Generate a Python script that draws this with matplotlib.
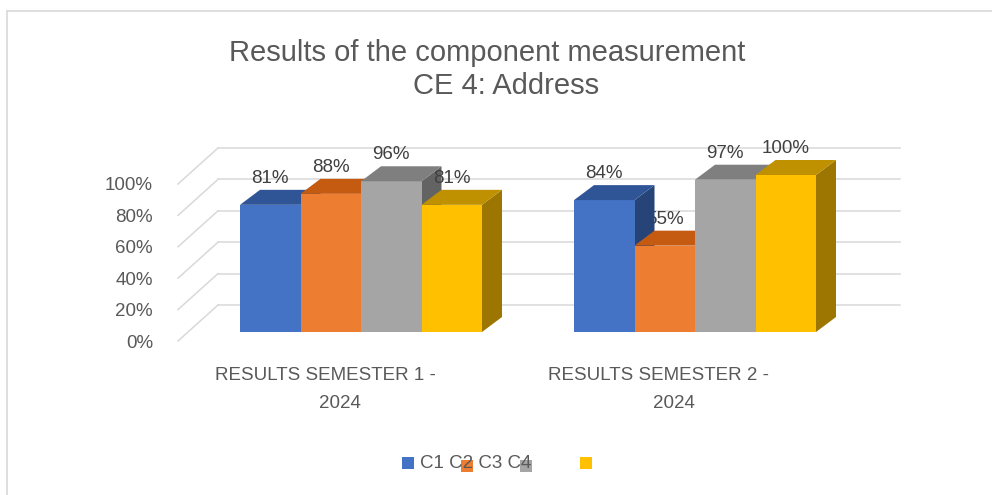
import matplotlib
matplotlib.use("Agg")
import matplotlib.pyplot as plt
from matplotlib.patches import Polygon, Rectangle
from matplotlib.lines import Line2D
import numpy as np

# ---------------- data ----------------
categories_line1 = ["RESULTS SEMESTER 1 -", "RESULTS SEMESTER 2 -"]
categories_line2 = ["2024", "2024"]
series_names = ["C1", "C2", "C3", "C4"]
c1 = [81, 84]
c2 = [88, 55]
c3 = [96, 97]
c4 = [81, 100]
series_values = [c1, c2, c3, c4]
tick_values = [0, 20, 40, 60, 80, 100]
tick_labels = ["0%", "20%", "40%", "60%", "80%", "100%"]
title_line1 = "Results of the component measurement"
title_line2 = "CE 4: Address"

# ---------------- style ----------------
front_colors = ["#4472C4", "#ED7D31", "#A5A5A5", "#FFC000"]
top_colors = ["#2F5597", "#C55A11", "#7F7F7F", "#BF9000"]
side_colors = ["#264478", "#9E480E", "#636363", "#9C7600"]
FONT = "Liberation Sans"
W, H = 992, 495
fig = plt.figure(figsize=(W / 100, H / 100), dpi=100)
fig.patch.set_facecolor("white")
ax = fig.add_axes([0, 0, 1, 1])
ax.axis("off")

# pixel mapping: x=0 -> 361px, 1 unit = 334px ; y=0 -> 332px from top, 1% = 1.57px
X0, XS = 361.0, 334.0
Y0, YS = 332.0, 1.57
ax.set_xlim(-X0 / XS, (W - X0) / XS)
ax.set_ylim((Y0 - H) / YS, Y0 / YS)


def px_x(p):
    return (p - X0) / XS


def dy_px(p):
    return p / YS


bar_w = 60.5 / XS
DX = 20 / XS
DY = dy_px(15)
LABEL_OFF = dy_px(26.5)

# walls
front_dy = dy_px(-9)
back_dy = dy_px(27)
front_x = px_x(178)
back_x = px_x(218)
right_x = px_x(900)
grid_col = "#D9D9D9"
for v in tick_values:
    ax.plot([back_x, right_x], [v + back_dy, v + back_dy], color=grid_col, lw=1.1, zorder=1)
    ax.plot([front_x, back_x], [v + front_dy, v + back_dy], color=grid_col, lw=1.1, zorder=1)
for v, lab in zip(tick_values, tick_labels):
    ax.text(px_x(153), v + front_dy - dy_px(2), lab, ha="right", va="center", fontsize=13.5,
            color="#595959", family=FONT)

# bars
groups = np.arange(len(categories_line1))
z = 2
bar_z = {}
for g in groups:
    for i, vals in enumerate(series_values):
        left = g - 2 * bar_w + i * bar_w
        v = vals[g]
        ax.bar(left, v, width=bar_w, align="edge", color=front_colors[i], zorder=z, lw=0)
        top = Polygon([[left, v], [left + bar_w, v], [left + bar_w + DX, v + DY], [left + DX, v + DY]],
                      closed=True, facecolor=top_colors[i], edgecolor="none", zorder=z)
        side = Polygon([[left + bar_w, 0], [left + bar_w, v], [left + bar_w + DX, v + DY],
                        [left + bar_w + DX, DY]], closed=True, facecolor=side_colors[i],
                       edgecolor="none", zorder=z - 0.5)
        ax.add_patch(side)
        ax.add_patch(top)
        bar_z[(g, i)] = z
        z += 1

# data labels: a label sits behind the previous bar's side face when that bar rises above it
for g in groups:
    for i, vals in enumerate(series_values):
        left = g - 2 * bar_w + i * bar_w
        v = vals[g]
        lz = 50
        if i > 0 and series_values[i - 1][g] > v + LABEL_OFF:
            lz = bar_z[(g, i - 1)] - 0.6
        ax.text(left + bar_w / 2, v + LABEL_OFF, f"{v}%", ha="center", va="center",
                fontsize=13.5, color="#404040", family=FONT, zorder=lz)

# category labels
for g in groups:
    ax.text(g - 36 / XS, dy_px(332 - 375), categories_line1[g],
            ha="center", va="center", fontsize=13.5, color="#595959", family=FONT)
    ax.text(g - 21 / XS, dy_px(332 - 404), categories_line2[g],
            ha="center", va="center", fontsize=13.5, color="#595959", family=FONT)

# title
fig.text(487 / W, 1 - 53 / H, title_line1, ha="center", va="center", fontsize=21,
         color="#595959", family=FONT)
fig.text(506 / W, 1 - 86 / H, title_line2, ha="center", va="center", fontsize=21,
         color="#595959", family=FONT)

# legend (reproducing the overlapped look)
sq = 12
leg_sq = [(402, 457), (461, 460), (520, 460), (580, 457)]
for (lx, ly), col in zip(leg_sq, front_colors):
    fig.patches.append(Rectangle((lx / W, 1 - (ly + sq) / H), sq / W, sq / H,
                                 transform=fig.transFigure, facecolor=col, edgecolor="none",
                                 zorder=5))
fig.text(420 / W, 1 - 463 / H, " ".join(series_names), ha="left", va="center", fontsize=13.5,
         color="#595959", family=FONT, zorder=6)

# border (top and left)
fig.add_artist(Line2D([7 / W, 1], [1 - 11 / H, 1 - 11 / H], transform=fig.transFigure,
                      color="#D9D9D9", lw=1.2))
fig.add_artist(Line2D([7 / W, 7 / W], [0, 1 - 11 / H], transform=fig.transFigure,
                      color="#D9D9D9", lw=1.2))

fig.savefig("out.png", dpi=100, facecolor="white")
